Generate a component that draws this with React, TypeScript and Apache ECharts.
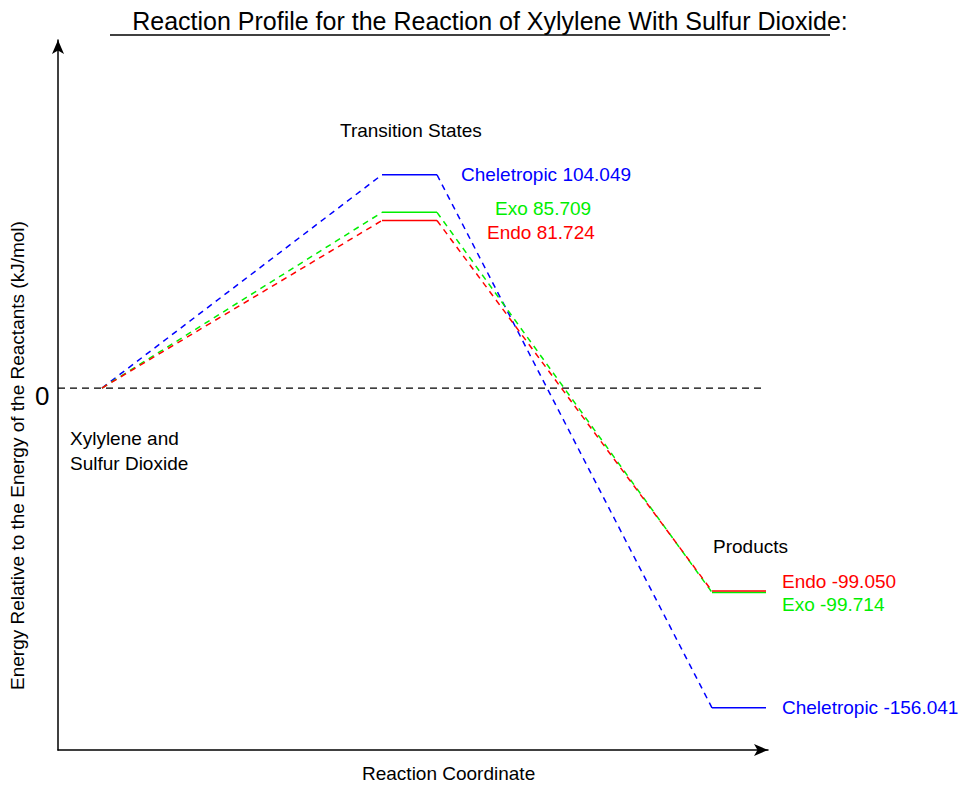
import { useEffect, useRef } from 'react'
import * as echarts from 'echarts'

const names = ['Cheletropic', 'Exo', 'Endo']
const colors = ['#0000ff', '#00ee00', '#ff0000']
const tsEnergy = [104.049, 85.709, 81.724]
const productEnergy = [-156.041, -99.714, -99.05]
// reaction coordinate positions (arbitrary units)
const xReact = 44
const xTs = [324, 379]
const xProd = [654, 708]
const tsLabelOffset = [[16, 0], [50, -4], [42, 12]]
const prodLabelOffset = [[8, 0], [8, 12], [8, -10]]

const fmt = (v: number) => v.toFixed(3)

function App() {
  const ref = useRef<HTMLDivElement>(null)

  useEffect(() => {
    document.body.style.margin = '0'
    if (!ref.current) return
    const chart = echarts.init(ref.current, null, { renderer: 'svg' })
    const font = 'Liberation Sans, Arial, sans-serif'
    const series: any[] = []
    names.forEach((n, i) => {
      series.push({
        type: 'line', name: n + ' dashed', symbol: 'none', silent: true,
        lineStyle: { color: colors[i], width: 1.5, type: [6, 5] },
        data: [[xReact, 0], [xTs[0], tsEnergy[i]], null, [xTs[1], tsEnergy[i]], [xProd[0], productEnergy[i]]],
        connectNulls: false,
      })
      series.push({
        type: 'line', name: n + ' ts', symbol: 'none', silent: true,
        lineStyle: { color: colors[i], width: 1.5 },
        data: [[xTs[0], tsEnergy[i]], [xTs[1], tsEnergy[i]]],
        endLabel: {
          show: true, formatter: `${n} ${fmt(tsEnergy[i])}`, color: colors[i],
          fontSize: 19, fontFamily: font, offset: tsLabelOffset[i],
        },
      })
      series.push({
        type: 'line', name: n + ' prod', symbol: 'none', silent: true,
        lineStyle: { color: colors[i], width: 1.5 },
        data: [[xProd[0], productEnergy[i]], [xProd[1], productEnergy[i]]],
        endLabel: {
          show: true, formatter: `${n} ${fmt(productEnergy[i])}`, color: colors[i],
          fontSize: 19, fontFamily: font, offset: prodLabelOffset[i],
        },
      })
    })
    series.push({
      type: 'line', name: 'zero', symbol: 'none', silent: true,
      lineStyle: { color: '#000', width: 1.3, type: [7, 5] },
      data: [[0, 0], [xProd[1], 0]],
      z: 1,
    })

    chart.setOption({
      animation: false,
      grid: { left: 58, right: 212, top: 40, bottom: 46 },
      xAxis: {
        type: 'value', min: 0, max: 710,
        axisLine: { onZero: false, lineStyle: { color: '#000', width: 1.5 }, symbol: ['none', 'arrow'], symbolSize: [9, 14] },
        axisTick: { show: false }, axisLabel: { show: false }, splitLine: { show: false },
      },
      yAxis: {
        type: 'value', min: -176.6, max: 169.8,
        axisLine: { show: true, onZero: false, lineStyle: { color: '#000', width: 1.5 }, symbol: ['none', 'arrow'], symbolSize: [9, 14] },
        axisTick: { show: false }, axisLabel: { show: false }, splitLine: { show: false },
      },
      series,
      graphic: [
        { type: 'text', left: 'center', top: 8, style: { text: 'Reaction Profile for the Reaction of Xylylene With Sulfur Dioxide:', fontSize: 25, fontFamily: font, fill: '#000' } },
        { type: 'line', shape: { x1: 110, y1: 35, x2: 830, y2: 35 }, style: { stroke: '#000', lineWidth: 1.3 } },
        { type: 'text', x: 340, y: 121, style: { text: 'Transition States', fontSize: 19, fontFamily: font, fill: '#000' } },
        { type: 'text', x: 713, y: 537, style: { text: 'Products', fontSize: 19, fontFamily: font, fill: '#000' } },
        { type: 'text', x: 70, y: 426, style: { text: 'Xylylene and\nSulfur Dioxide', fontSize: 19, lineHeight: 25, fontFamily: font, fill: '#000' } },
        { type: 'text', x: 35, y: 383, style: { text: '0', fontSize: 26, fontFamily: font, fill: '#000' } },
        { type: 'text', x: 362, y: 764, style: { text: 'Reaction Coordinate', fontSize: 19, fontFamily: font, fill: '#000' } },
        { type: 'text', x: 8, y: 690, rotation: Math.PI / 2, style: { text: 'Energy Relative to the Energy of the Reactants (kJ/mol)', fontSize: 19, fontFamily: font, fill: '#000' } },
      ],
    })
    return () => chart.dispose()
  }, [])

  return <div ref={ref} style={{ width: 980, height: 796, background: '#fff' }} />
}

export default App
